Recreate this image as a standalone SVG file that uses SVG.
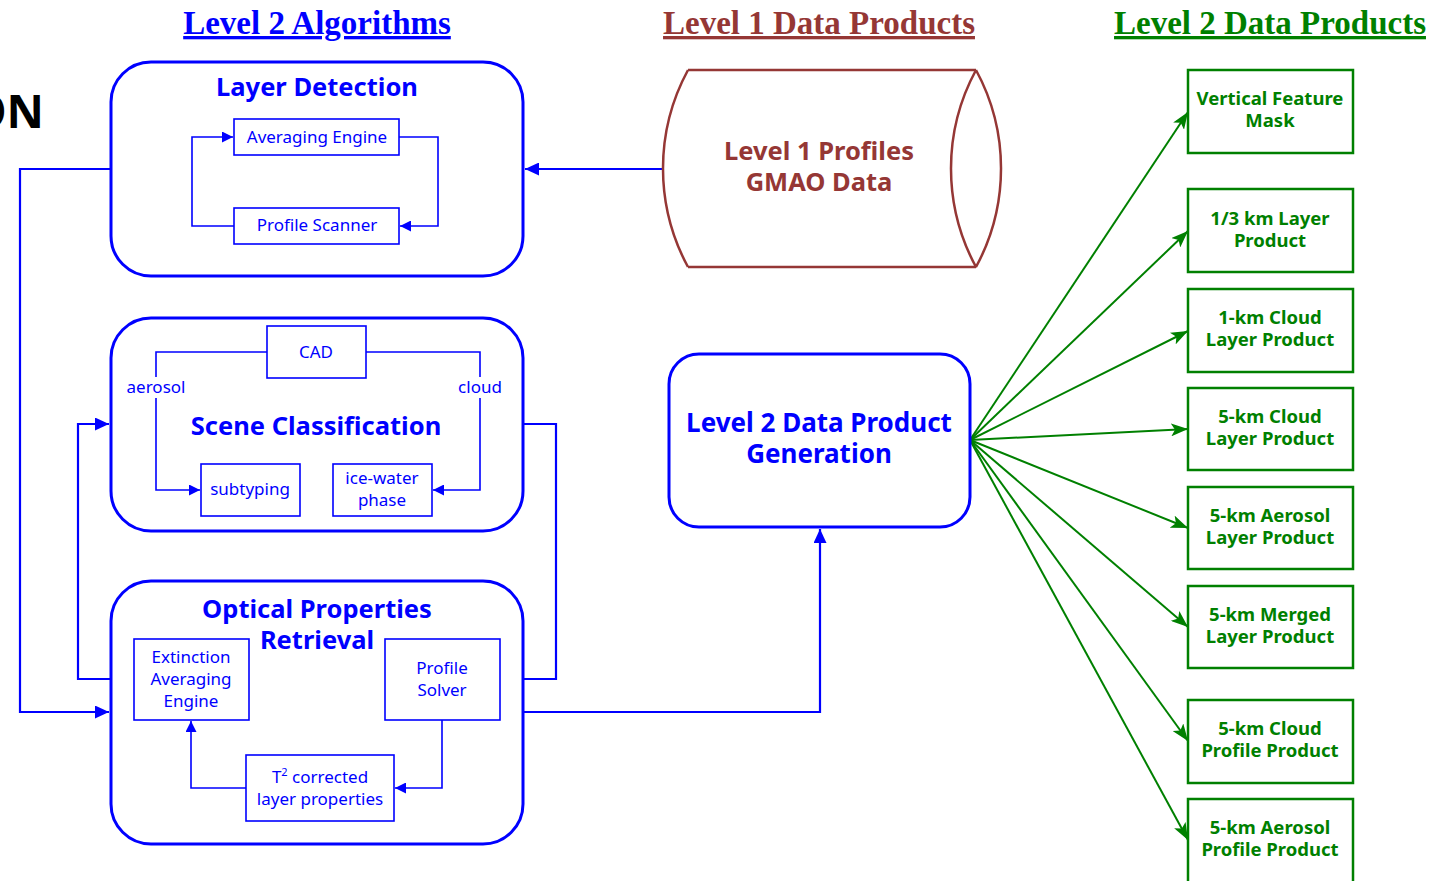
<svg xmlns="http://www.w3.org/2000/svg" width="1439" height="881" viewBox="0 0 1439 881">
<style>
.bg{fill:#ffffff}
.hdr{font-family:"Liberation Serif",serif;font-weight:bold;font-size:33px;text-anchor:middle;text-decoration:underline}
.big{font-family:"Noto Sans","DejaVu Sans",sans-serif;font-weight:bold;font-size:25.5px;text-anchor:middle}
.big2{font-size:26px}
.sm{font-family:"Noto Sans","DejaVu Sans",sans-serif;font-size:17px;text-anchor:middle;fill:#0000FF}
.gt{font-family:"Noto Sans","DejaVu Sans",sans-serif;font-weight:bold;font-size:18.5px;text-anchor:middle;fill:#008000}
.outer{fill:#ffffff;stroke:#0000FF;stroke-width:3}
.inner{fill:#ffffff;stroke:#0000FF;stroke-width:1.6}
.bl{fill:none;stroke:#0000FF;stroke-width:1.6}
.bl2{fill:none;stroke:#0000FF;stroke-width:2.2}
.gl{fill:none;stroke:#008000;stroke-width:2}
.gbox{fill:#ffffff;stroke:#008000;stroke-width:2.5}
.cyl{fill:none;stroke:#953735;stroke-width:2.5}
</style>
<defs>
<marker id="ab" markerUnits="userSpaceOnUse" markerWidth="11" markerHeight="11" refX="11" refY="5.5" orient="auto"><path d="M0,0 L11,5.5 L0,11 z" fill="#0000FF"/></marker>
<marker id="ab2" markerUnits="userSpaceOnUse" markerWidth="14" markerHeight="13" refX="14" refY="6.5" orient="auto"><path d="M0,0 L14,6.5 L0,13 z" fill="#0000FF"/></marker>
<marker id="ag" markerUnits="userSpaceOnUse" markerWidth="17" markerHeight="13" refX="17" refY="6.5" orient="auto"><path d="M0,0 L17,6.5 L0,13 L4,6.5 z" fill="#008000"/></marker>
</defs>
<rect class="bg" x="0" y="0" width="1439" height="881"/>

<text x="44" y="128" text-anchor="end" style="font-family:'Noto Sans','DejaVu Sans',sans-serif;font-weight:bold;font-size:46px;fill:#000">ON</text>

<text class="hdr" x="317" y="34" fill="#0000FF">Level 2 Algorithms</text>
<text class="hdr" x="819" y="34" fill="#953735">Level 1 Data Products</text>
<text class="hdr" x="1270" y="34" fill="#008000">Level 2 Data Products</text>

<g id="connectors">
  <path class="bl2" d="M111,169 H20 V712 H109" marker-end="url(#ab2)"/>
  <path class="bl2" d="M663,169 H525" marker-end="url(#ab2)"/>
  <path class="bl2" d="M134,679 H78 V424 H109" marker-end="url(#ab2)"/>
  <path class="bl2" d="M523,424 H556 V679 H502" marker-end="url(#ab2)"/>
  <path class="bl2" d="M523,712 H820 V529" marker-end="url(#ab2)"/>
  <path class="gl" d="M970,440 L1188,112" marker-end="url(#ag)"/>
  <path class="gl" d="M970,440 L1188,231" marker-end="url(#ag)"/>
  <path class="gl" d="M970,440 L1188,331" marker-end="url(#ag)"/>
  <path class="gl" d="M970,440 L1188,429" marker-end="url(#ag)"/>
  <path class="gl" d="M970,440 L1188,528" marker-end="url(#ag)"/>
  <path class="gl" d="M970,440 L1188,627" marker-end="url(#ag)"/>
  <path class="gl" d="M970,440 L1188,741" marker-end="url(#ag)"/>
  <path class="gl" d="M970,440 L1188,840" marker-end="url(#ag)"/>
</g>

<g id="layer-detection">
  <rect class="outer" x="111" y="62" width="412" height="214" rx="40"/>
  <text class="big" x="317" y="96" fill="#0000FF">Layer Detection</text>
  <rect class="inner" x="234" y="119" width="165" height="36"/>
  <text class="sm" x="317" y="143">Averaging Engine</text>
  <rect class="inner" x="234" y="208" width="165" height="36"/>
  <text class="sm" x="317" y="231">Profile Scanner</text>
  <path class="bl" d="M234,226 H192 V137 H233" marker-end="url(#ab)"/>
  <path class="bl" d="M399,137 H438 V226 H400" marker-end="url(#ab)"/>
</g>

<g id="level1-profiles">
  <path class="cyl" d="M688,70 H976 M688,267 H976 M688,70 A206.5,206.5 0 0 0 688,267 M976,70 A206.5,206.5 0 0 1 976,267 M976,70 A206.5,206.5 0 0 0 976,267"/>
  <text class="big" x="819" y="160" fill="#953735">Level 1 Profiles</text>
  <text class="big" x="819" y="191" fill="#953735">GMAO Data</text>
</g>

<g id="scene-classification">
  <rect class="outer" x="111" y="318" width="412" height="213" rx="40"/>
  <rect class="inner" x="267" y="326" width="99" height="52"/>
  <text class="sm" x="316" y="358">CAD</text>
  <text class="big" x="316" y="435" fill="#0000FF">Scene Classification</text>
  <path class="bl" d="M267,352 H156 V377 M156,398 V490 H200" marker-end="url(#ab)"/>
  <path class="bl" d="M366,352 H480 V377 M480,398 V490 H433" marker-end="url(#ab)"/>
  <text class="sm" x="156" y="393">aerosol</text>
  <text class="sm" x="480" y="393">cloud</text>
  <rect class="inner" x="201" y="464" width="99" height="52"/>
  <text class="sm" x="250" y="495">subtyping</text>
  <rect class="inner" x="333" y="464" width="99" height="52"/>
  <text class="sm" x="382" y="484">ice-water</text>
  <text class="sm" x="382" y="506">phase</text>
</g>

<g id="optical-properties">
  <rect class="outer" x="111" y="581" width="412" height="263" rx="40"/>
  <text class="big" x="317" y="618" fill="#0000FF">Optical Properties</text>
  <text class="big" x="317" y="649" fill="#0000FF">Retrieval</text>
  <rect class="inner" x="134" y="639" width="115" height="81"/>
  <text class="sm" x="191" y="663">Extinction</text>
  <text class="sm" x="191" y="685">Averaging</text>
  <text class="sm" x="191" y="707">Engine</text>
  <rect class="inner" x="385" y="639" width="115" height="81"/>
  <text class="sm" x="442" y="674">Profile</text>
  <text class="sm" x="442" y="696">Solver</text>
  <rect class="inner" x="246" y="755" width="148" height="66"/>
  <text class="sm" x="320" y="783">T<tspan font-size="11" dy="-7">2</tspan><tspan dy="7"> corrected</tspan></text>
  <text class="sm" x="320" y="805">layer properties</text>
  <path class="bl" d="M442,720 V788 H395" marker-end="url(#ab)"/>
  <path class="bl" d="M246,788 H191 V721" marker-end="url(#ab)"/>
</g>

<g id="l2-generation">
  <rect class="outer" x="669" y="354" width="301" height="173" rx="30"/>
  <text class="big big2" x="819" y="432" fill="#0000FF">Level 2 Data Product</text>
  <text class="big big2" x="819" y="463" fill="#0000FF">Generation</text>
</g>

<g id="p-vfm"><rect class="gbox" x="1188" y="70" width="165" height="83"/><text class="gt" x="1270" y="105">Vertical Feature</text><text class="gt" x="1270" y="127">Mask</text></g>
<g id="p-13km"><rect class="gbox" x="1188" y="189" width="165" height="83"/><text class="gt" x="1270" y="225">1/3 km Layer</text><text class="gt" x="1270" y="247">Product</text></g>
<g id="p-1km-cloud"><rect class="gbox" x="1188" y="289" width="165" height="83"/><text class="gt" x="1270" y="324">1-km Cloud</text><text class="gt" x="1270" y="346">Layer Product</text></g>
<g id="p-5km-cloud-layer"><rect class="gbox" x="1188" y="388" width="165" height="82"/><text class="gt" x="1270" y="423">5-km Cloud</text><text class="gt" x="1270" y="445">Layer Product</text></g>
<g id="p-5km-aerosol-layer"><rect class="gbox" x="1188" y="487" width="165" height="82"/><text class="gt" x="1270" y="522">5-km Aerosol</text><text class="gt" x="1270" y="544">Layer Product</text></g>
<g id="p-5km-merged"><rect class="gbox" x="1188" y="586" width="165" height="82"/><text class="gt" x="1270" y="621">5-km Merged</text><text class="gt" x="1270" y="643">Layer Product</text></g>
<g id="p-5km-cloud-profile"><rect class="gbox" x="1188" y="700" width="165" height="83"/><text class="gt" x="1270" y="735">5-km Cloud</text><text class="gt" x="1270" y="757">Profile Product</text></g>
<g id="p-5km-aerosol-profile"><rect class="gbox" x="1188" y="799" width="165" height="84"/><text class="gt" x="1270" y="834">5-km Aerosol</text><text class="gt" x="1270" y="856">Profile Product</text></g>
</svg>
